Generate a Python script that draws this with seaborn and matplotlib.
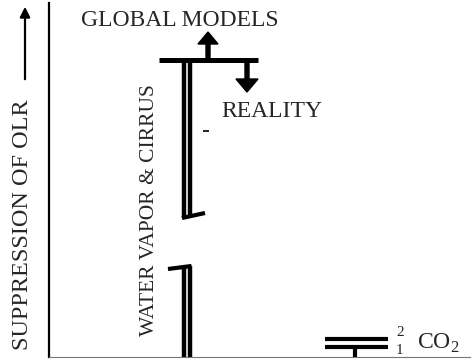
import numpy as np
import matplotlib
matplotlib.use('Agg')
import matplotlib.pyplot as plt
import seaborn as sns

# valores (unidades arbitrarias de supressao de OLR)
categorias = ['WATER VAPOR & CIRRUS', 'CO$_2$']
vapor_topo = 29.7          # topo da barra (modelos globais)
vapor_quebra = [9.1, 13.9]  # interrupcao do eixo na barra
co2_niveis = [1.0, 1.8]
co2_rotulos = ['1', '2']
seta_modelos = 2.8         # seta para cima
seta_realidade = -3.2      # seta para baixo
textos = ['GLOBAL MODELS', 'REALITY']
rotulo_y = 'SUPPRESSION OF OLR'

sns.set_theme(style='white')
plt.rcParams['font.family'] = ['Liberation Serif', 'DejaVu Serif']
plt.rcParams['mathtext.fontset'] = 'custom'
plt.rcParams['mathtext.rm'] = 'Liberation Serif'

fig = plt.figure(figsize=(4.72, 3.6), dpi=100)
ax = fig.add_axes([49 / 472, 3 / 360, 421 / 472, 354 / 360])
ax.set_xlim(0, 42.1)
ax.set_ylim(0, 35.4)
ax.set_xticks([])
ax.set_yticks([])
sns.despine(ax=ax, top=True, right=True)
ax.spines['left'].set_color('black')
ax.spines['left'].set_linewidth(1.6)
ax.spines['bottom'].set_color('#777777')
ax.spines['bottom'].set_linewidth(0.8)

k = 'black'
# barra dupla do vapor d'agua, com quebra
for x in [13.45, 14.05]:
    ax.vlines(x, vapor_quebra[1], vapor_topo, color=k, lw=3.2)
    ax.vlines(x, 0, vapor_quebra[0], color=k, lw=3.2)
ax.plot([13.3, 15.6], [vapor_quebra[1], vapor_quebra[1] + 0.5], color=k, lw=3.0, solid_capstyle='butt')
ax.plot([11.9, 14.25], [vapor_quebra[0] - 0.3, vapor_quebra[0]], color=k, lw=3.0, solid_capstyle='butt')
ax.hlines(vapor_topo, 11.0, 20.9, color=k, lw=3.6)

# setas modelos / realidade
ax.arrow(15.9, vapor_topo, 0, seta_modelos, width=0.4, head_width=2.0, head_length=1.2,
         length_includes_head=True, color=k)
ax.arrow(19.8, vapor_topo, 0, seta_realidade, width=0.4, head_width=2.2, head_length=1.3,
         length_includes_head=True, color=k)
ax.hlines(22.6, 15.4, 16.0, color=k, lw=1.2)

# CO2
for nivel in co2_niveis:
    ax.hlines(nivel, 27.6, 33.9, color=k, lw=3.0)
ax.vlines(30.6, 0, co2_niveis[0], color=k, lw=3.0)
ax.text(34.7, co2_niveis[1] + 0.6, co2_rotulos[1], fontsize=11, ha='left', va='center')
ax.text(34.7, co2_niveis[0] - 0.35, co2_rotulos[0], fontsize=11, ha='left', va='center')
ax.text(36.8, 1.4, categorias[1], fontsize=17, ha='left', va='center')

ax.text(13.1, 33.7, textos[0], fontsize=17, ha='center', va='center')
ax.text(22.3, 24.6, textos[1], fontsize=17, ha='center', va='center')
ax.text(10.1, 14.7, categorias[0], fontsize=15.5, ha='center', va='center', rotation=90)

fig.text(23 / 472, 1 - 225 / 360, rotulo_y, fontsize=17.5, ha='center', va='center', rotation=90)
fig.add_artist(matplotlib.patches.FancyArrowPatch((25 / 472, 1 - 82 / 360), (25 / 472, 1 - 4 / 360),
                                                  transform=fig.transFigure, arrowstyle='-|>',
                                                  mutation_scale=15, lw=1.6, color=k))

fig.savefig('out.png', dpi=100)
